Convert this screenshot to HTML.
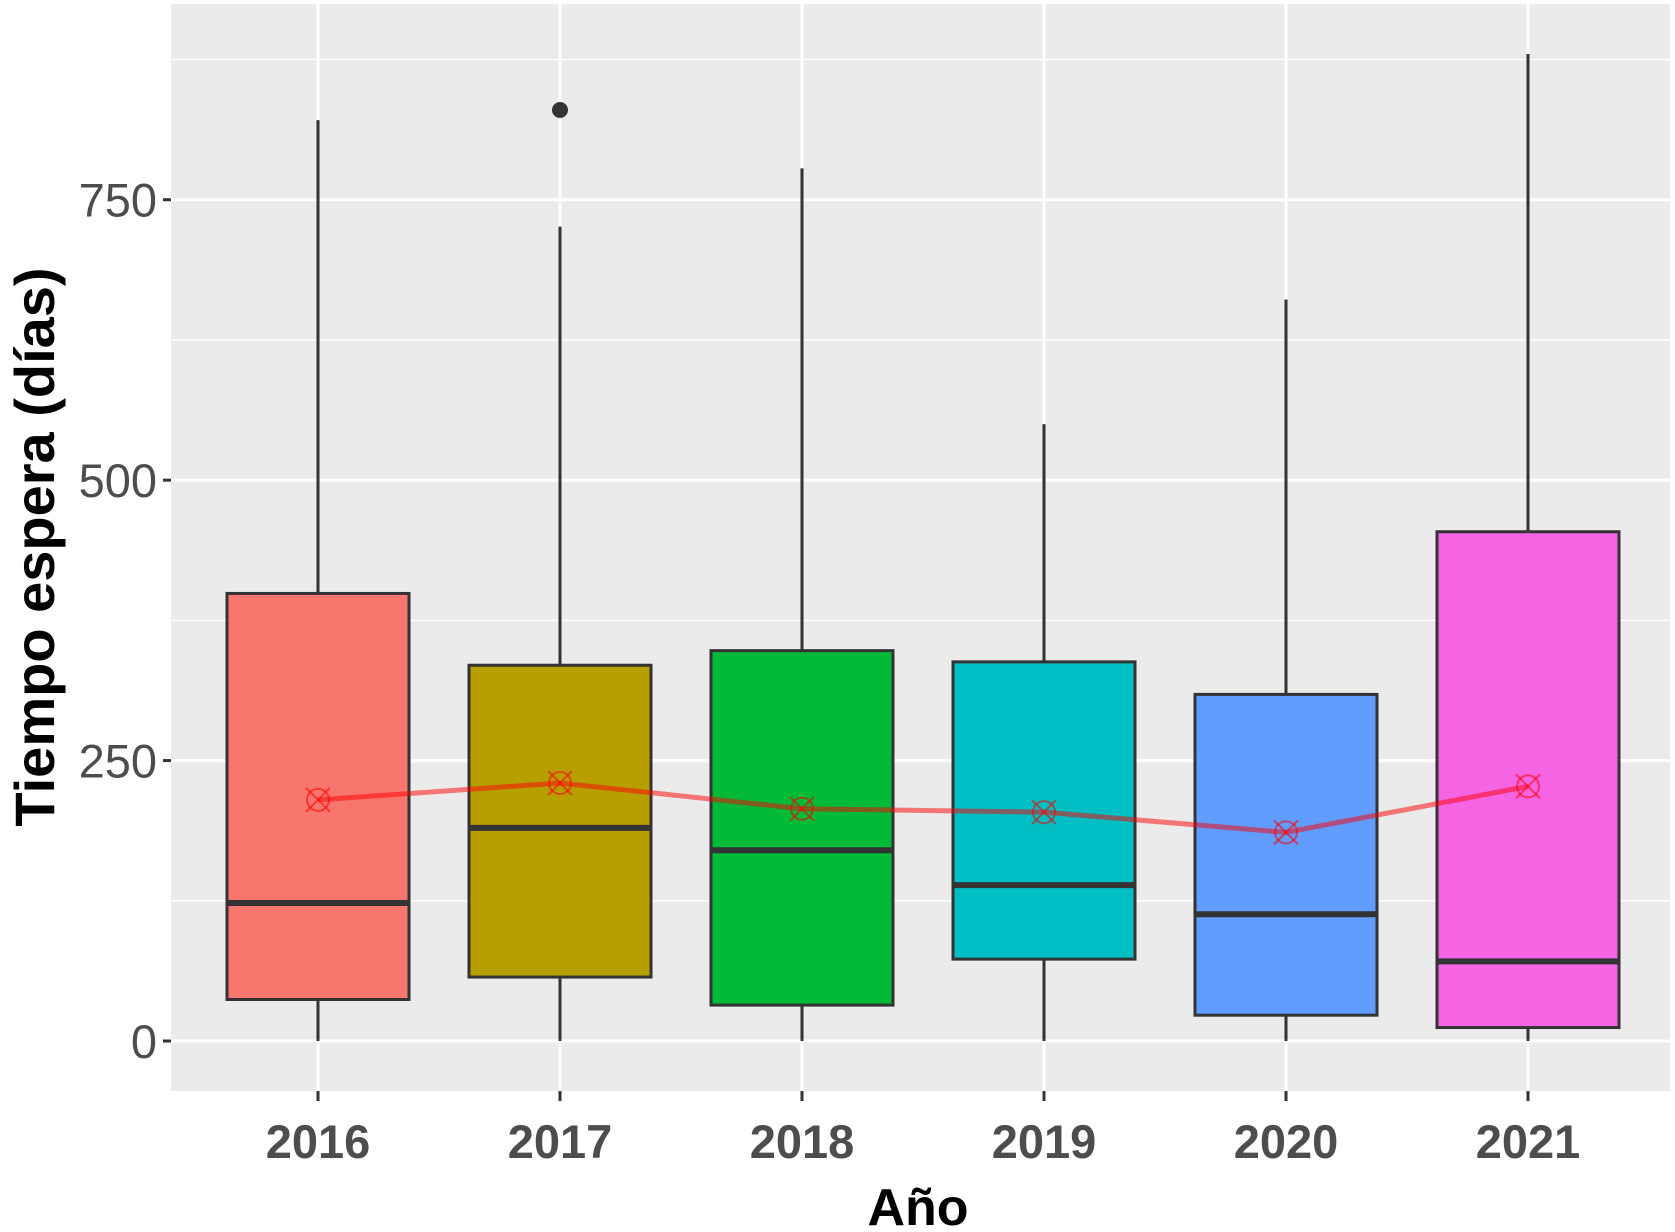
<!DOCTYPE html>
<html><head><meta charset="utf-8"><style>
html,body{margin:0;padding:0;background:#fff;}
svg{display:block;font-family:"Liberation Sans",sans-serif;}
</style></head><body>
<svg id="chart" width="1675" height="1232" viewBox="0 0 1675 1232">
<rect x="171" y="4" width="1499" height="1087" fill="#ebebeb"/>
<g id="grid"></g>
<g id="marks"></g>
<g id="axes"></g>
<text x="918" y="1225" text-anchor="middle" font-size="52" font-weight="bold" fill="#000">Año</text>
<text transform="translate(54,547) rotate(-90)" text-anchor="middle" font-size="56" font-weight="bold" fill="#000">Tiempo espera (días)</text>
</svg>
<script>
const categories = ["2016","2017","2018","2019","2020","2021"];
const lowerWhisker = [0,0,0,0,0,0];
const q1 = [37,57,32,73,23,12];
const median = [123,190,170,139,113,71];
const q3 = [399,335,348,338,309,454];
const upperWhisker = [821,726,778,550,661,880];
const means = [215,230,207,204,186,227];
const outliers = [[],[830],[],[],[],[]];
const fills = ["#f8766d","#b79f00","#00ba38","#00bfc4","#619cff","#f564e3"];
const yTicks = [0,250,500,750];
const yMinor = [125,375,625,875];

const NS="http://www.w3.org/2000/svg";
const panel={x0:171,x1:1670,y0:4,y1:1091};
function y(v){return 1041 - v*1.1217;}
function x(i){return 318 + i*242;}
const halfW=91;
function mk(tag,attrs,parent){const e=document.createElementNS(NS,tag);for(const k in attrs)e.setAttribute(k,attrs[k]);parent.appendChild(e);return e;}
const grid=document.getElementById('grid'),marks=document.getElementById('marks'),axes=document.getElementById('axes');

yMinor.forEach(v=>{const l=mk('line',{x1:panel.x0,x2:panel.x1,y1:y(v),y2:y(v),stroke:'#fff','stroke-width':1.5},grid);

});
yTicks.forEach(v=>{const l=mk('line',{x1:panel.x0,x2:panel.x1,y1:y(v),y2:y(v),stroke:'#fff','stroke-width':3},grid);


const t=mk('line',{x1:panel.x0-8,x2:panel.x0,y1:y(v),y2:y(v),stroke:'#333','stroke-width':3},axes);


const tx=mk('text',{x:panel.x0-14,y:y(v)+17,'text-anchor':'end','font-size':47,fill:'#4d4d4d'},axes);
tx.textContent=v;

});
categories.forEach((c,i)=>{const l=mk('line',{x1:x(i),x2:x(i),y1:panel.y0,y2:panel.y1,stroke:'#fff','stroke-width':3},grid);


const t=mk('line',{x1:x(i),x2:x(i),y1:panel.y1,y2:panel.y1+10,stroke:'#333','stroke-width':3},axes);


const tx=mk('text',{x:x(i),y:1158,'text-anchor':'middle','font-size':47,'font-weight':'bold',fill:'#4d4d4d'},axes);
tx.textContent=c;

});

categories.forEach((c,i)=>{
const g=mk('g',{},marks);


mk('line',{x1:x(i),x2:x(i),y1:y(upperWhisker[i]),y2:y(q3[i]),stroke:'#333','stroke-width':3},g);
mk('line',{x1:x(i),x2:x(i),y1:y(q1[i]),y2:y(lowerWhisker[i]),stroke:'#333','stroke-width':3},g);
mk('rect',{x:x(i)-halfW,y:y(q3[i]),width:2*halfW,height:y(q1[i])-y(q3[i]),fill:fills[i],stroke:'#333','stroke-width':3},g);
mk('line',{x1:x(i)-halfW,x2:x(i)+halfW,y1:y(median[i]),y2:y(median[i]),stroke:'#333','stroke-width':6},g);
outliers[i].forEach(o=>{const p=mk('circle',{cx:x(i),cy:y(o),r:8,fill:'#333'},g);

});
});
const pts=means.map((m,i)=>x(i)+','+y(m)).join(' ');
const ml=mk('polyline',{points:pts,fill:'none',stroke:'rgba(255,0,0,0.5)','stroke-width':5},marks);


means.forEach((m,i)=>{const g=mk('g',{stroke:'rgba(255,0,0,0.55)','stroke-width':2,fill:'none'},marks);


mk('circle',{cx:x(i),cy:y(m),r:11},g);
mk('line',{x1:x(i)-12,y1:y(m)-12,x2:x(i)+12,y2:y(m)+12},g);
mk('line',{x1:x(i)-12,y1:y(m)+12,x2:x(i)+12,y2:y(m)-12},g);});
</script>
</body></html>
